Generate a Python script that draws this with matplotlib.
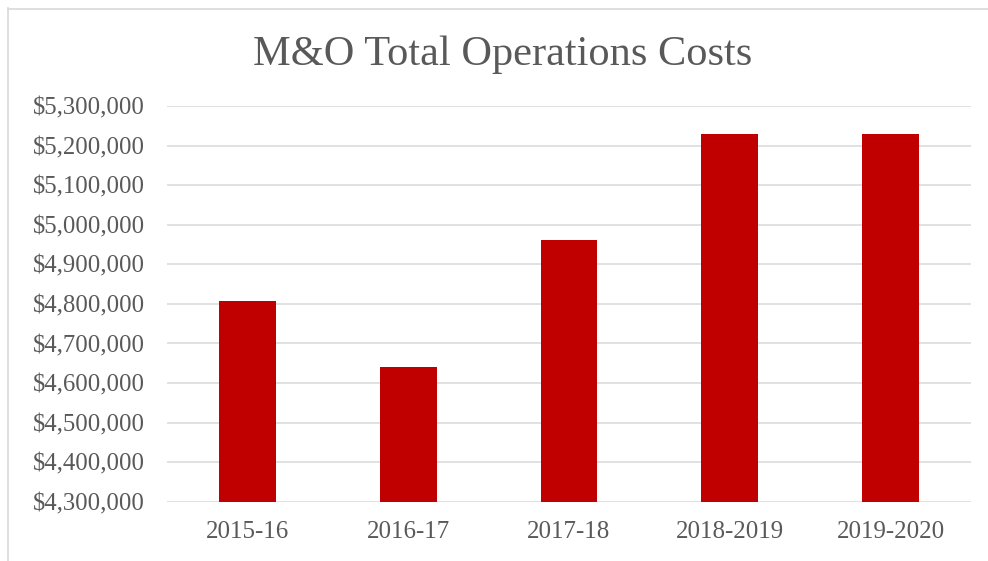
import matplotlib.pyplot as plt
from matplotlib.lines import Line2D
from matplotlib.ticker import FuncFormatter

# Data
years = ["2015-16", "2016-17", "2017-18", "2018-2019", "2019-2020"]
costs = [4807000, 4640000, 4961000, 5229000, 5229000]
y_ticks = [4300000, 4400000, 4500000, 4600000, 4700000, 4800000,
           4900000, 5000000, 5100000, 5200000, 5300000]

text_color = "#595959"
grid_color = "#D9D9D9"
bar_color = "#C00000"

plt.rcParams['font.family'] = ['Liberation Serif', 'DejaVu Serif']

fig = plt.figure(figsize=(9.88, 5.61), dpi=100)
ax = fig.add_axes([0.169, 0.1057, 0.8138, 0.7053])

ax.bar(range(len(years)), costs, width=0.353, color=bar_color, zorder=3)

ax.set_xlim(-0.5, len(years) - 0.5)
ax.set_ylim(y_ticks[0], y_ticks[-1])
ax.set_yticks(y_ticks)
ax.yaxis.set_major_formatter(FuncFormatter(lambda v, p: "${:,.0f}".format(v)))
ax.set_xticks(range(len(years)))
ax.set_xticklabels(years)

ax.grid(axis="y", color=grid_color, linewidth=1.1, zorder=0)
ax.set_axisbelow(True)
for s in ax.spines.values():
  s.set_visible(False)

ax.tick_params(axis="y", length=0, pad=16, labelsize=17.8, labelcolor=text_color)
ax.tick_params(axis="x", length=0, pad=14, labelsize=18, labelcolor=text_color)

fig.text(0.509, 1 - 65 / 561, "M&O Total Operations Costs", ha="center",
         va="baseline", fontsize=30.5, color=text_color)

# Chart border (left and top edges visible)
fig.add_artist(Line2D([7.5 / 988, 7.5 / 988], [0, 1 - 8 / 561],
                      color=grid_color, linewidth=1.2, transform=fig.transFigure))
fig.add_artist(Line2D([7.5 / 988, 1], [1 - 8.5 / 561, 1 - 8.5 / 561],
                      color=grid_color, linewidth=1.2, transform=fig.transFigure))

plt.savefig("out.png", dpi=100)
